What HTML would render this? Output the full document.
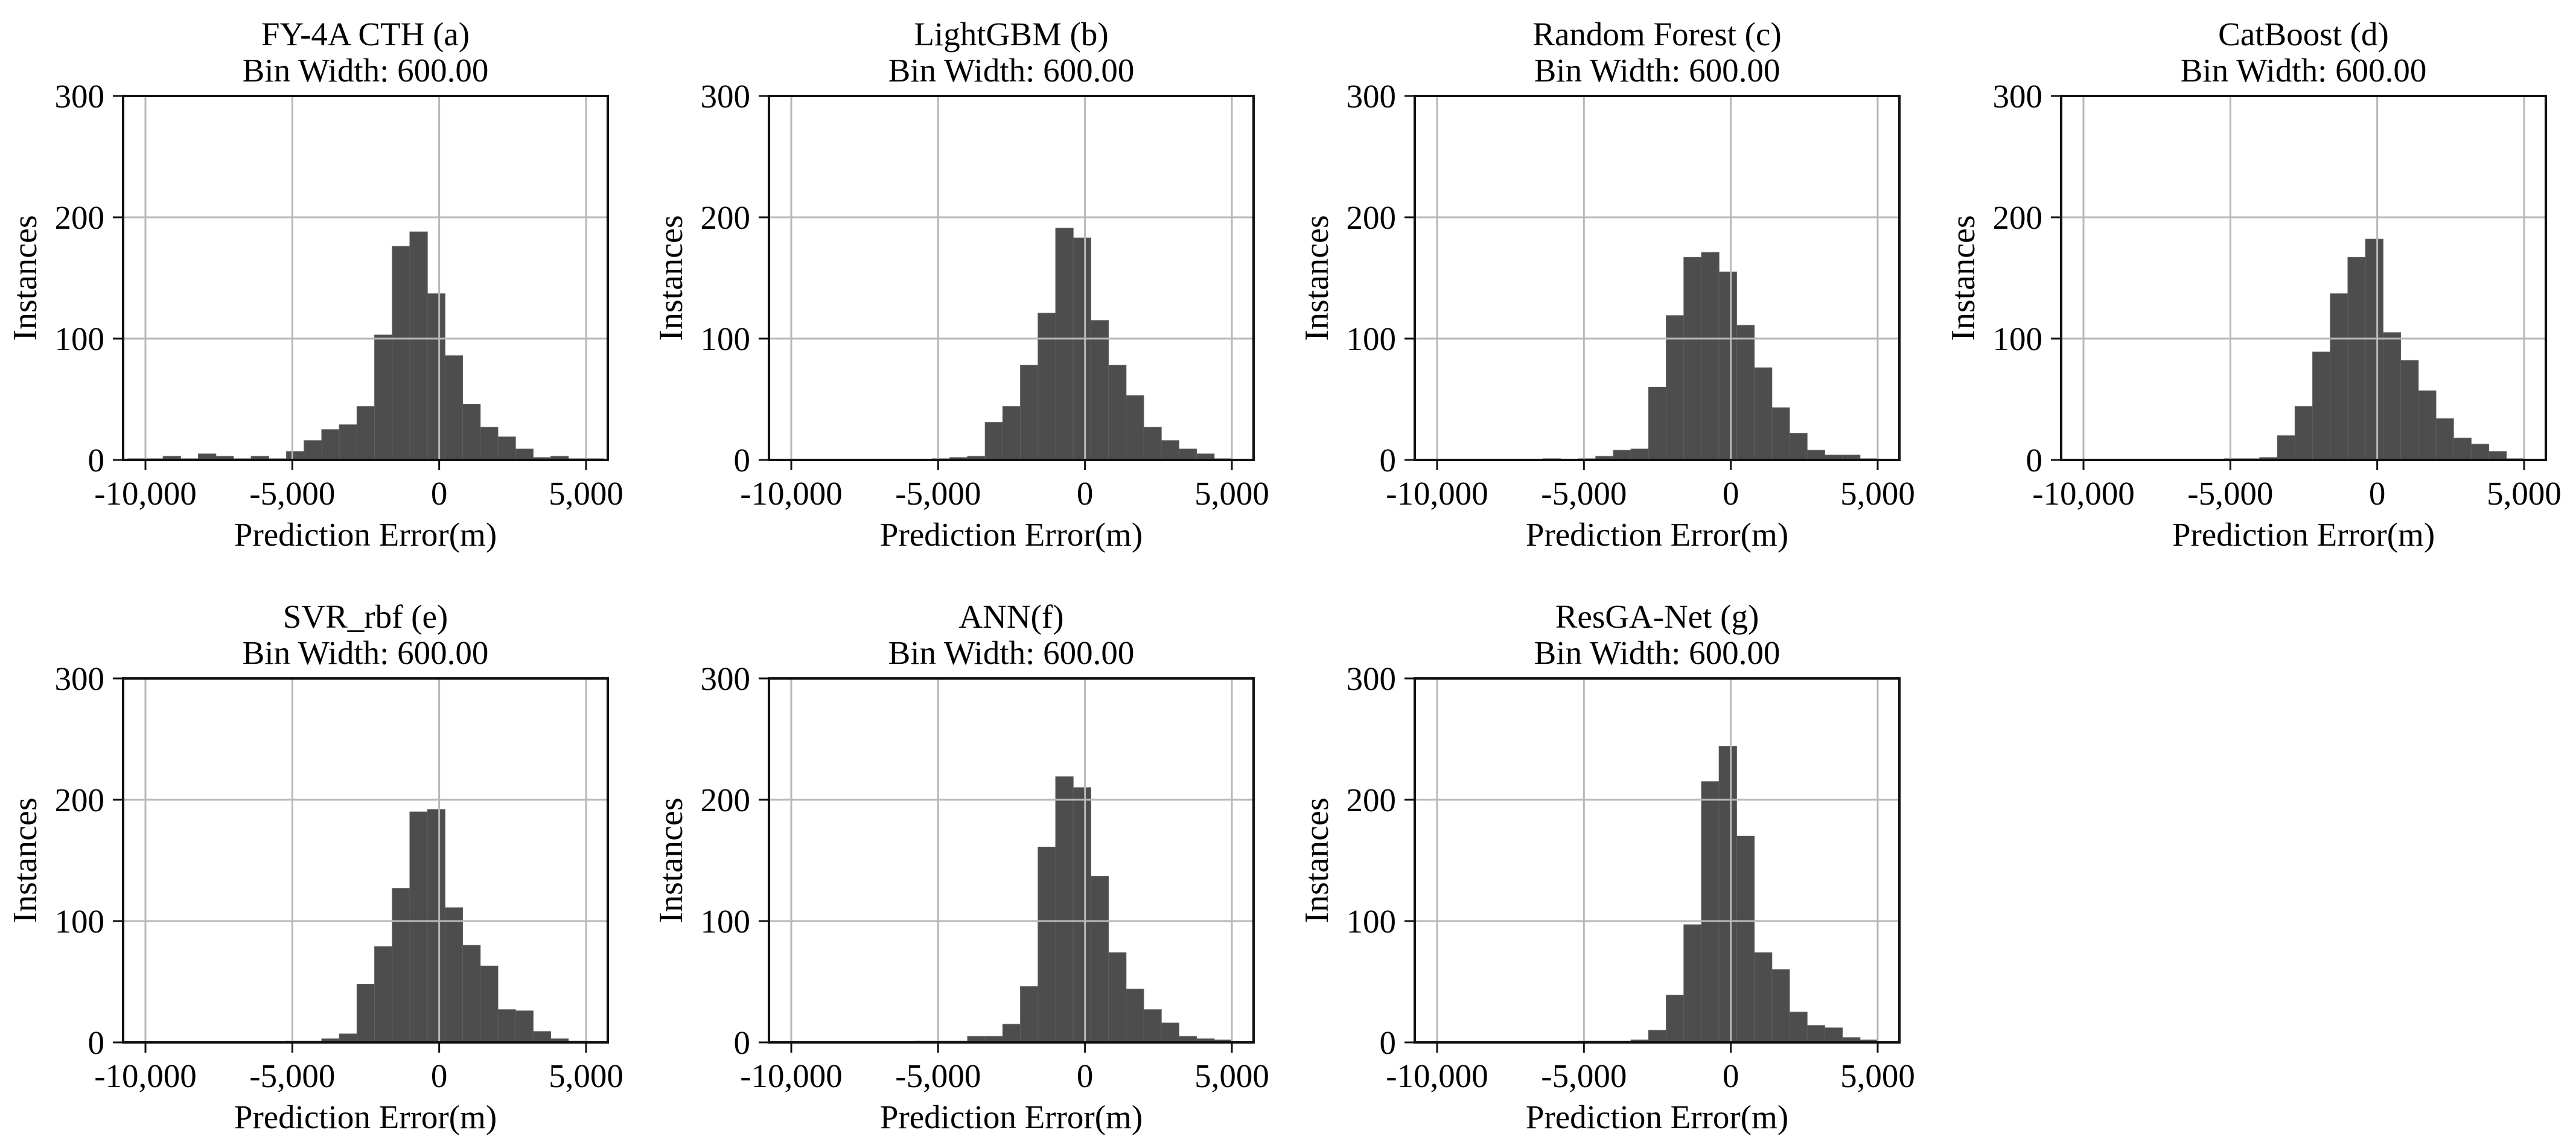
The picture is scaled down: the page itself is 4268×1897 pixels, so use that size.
<!DOCTYPE html>
<html><head><meta charset="utf-8"><style>
html,body{margin:0;padding:0;background:#fff;}
svg{display:block;}
text{font-family:"Liberation Serif","DejaVu Serif",serif;fill:#000;}
</style></head><body>
<svg id="chart" width="4268" height="1897" viewBox="0 0 4268 1897" xmlns="http://www.w3.org/2000/svg"></svg>
<script>
// bins: left edges start at binStart, width binWidth
const binStart = -10600;
const binWidth = 600;
const panelTitles = ["FY-4A CTH (a)","LightGBM (b)","Random Forest (c)","CatBoost (d)","SVR_rbf (e)","ANN(f)","ResGA-Net (g)"];
const panelSlugs = ["fy4a-cth","lightgbm","random-forest","catboost","svr-rbf","ann","resga-net"];
const countsA = [1,1,3,1,5,3,1,3,1,7,16,25,29,44,103,176,188,137,86,46,27,19,9,2,3,1,1];
const countsB = [0,0,0,0,0,0,0,0,0,1,2,3,31,44,78,121,191,183,115,78,53,27,16,9,5,1,0];
const countsC = [0,0,0,0,0,0,0,1,0,1,3,8,9,60,119,167,171,155,111,76,43,22,8,4,4,1,0];
const countsD = [0,0,0,0,0,0,0,0,0,1,1,2,20,44,89,137,167,182,105,82,57,34,18,13,7,1,0];
const countsE = [0,0,0,0,0,0,0,0,0,1,1,3,7,48,79,127,190,192,111,80,63,27,26,9,3,1,0];
const countsF = [0,0,0,0,0,0,0,0,1,1,1,5,5,15,46,161,219,210,137,74,44,27,16,5,3,2,0];
const countsG = [0,0,0,0,0,0,0,0,0,1,1,1,2,10,39,97,215,244,170,74,60,25,14,12,4,2,0];
const xTicks = [-10000,-5000,0,5000];
const xTickLabels = ["-10,000","-5,000","0","5,000"];
const yTicks = [0,100,200,300];
const yTickLabels = ["0","100","200","300"];
const allCounts = [countsA,countsB,countsC,countsD,countsE,countsF,countsG];

const svg = document.getElementById('chart');
const NS = "http://www.w3.org/2000/svg";
function mk(tag, attrs, parent){
  const e = document.createElementNS(NS, tag);
  for (const k in attrs) e.setAttribute(k, attrs[k]);
  parent.appendChild(e);
  return e;
}
const X_MIN = -10760, X_MAX = 5740, Y_MIN = 0, Y_MAX = 300;
const W = 803;
const lefts = [204, 1274, 2344, 3415];
const tops = [159, 1124];
const heights = [603, 603];

allCounts.forEach((counts, p) => {
  const col = p % 4, row = Math.floor(p / 4);
  const L = lefts[col], T = tops[row], H = heights[row], B = T + H, R = L + W;
  const xs = v => L + (v - X_MIN) / (X_MAX - X_MIN) * W;
  const ys = v => B - (v - Y_MIN) / (Y_MAX - Y_MIN) * H;
  const g = mk('g', {}, svg);
  
  

  const cx = L + W / 2;
  const t1 = mk('text', {x: cx, y: T - 84, 'text-anchor': 'middle', 'font-size': 55}, g);
  t1.textContent = panelTitles[p];
  
  
  const t2 = mk('text', {x: cx, y: T - 24, 'text-anchor': 'middle', 'font-size': 55}, g);
  t2.textContent = "Bin Width: 600.00";
  
  

  counts.forEach((c, i) => {
    if (c <= 0) return;
    const x0 = xs(binStart + i * binWidth), x1 = xs(binStart + (i + 1) * binWidth);
    const r = mk('rect', {x: x0, y: ys(c), width: x1 - x0, height: ys(0) - ys(c), fill: '#4d4d4d', stroke: '#5e5e5e', 'stroke-width': 1}, g);
    
    
  });

  xTicks.forEach(v => {
    const l = mk('line', {x1: xs(v), x2: xs(v), y1: T, y2: B, stroke: '#b8b8b8', 'stroke-width': 3}, g);
    
    
  });
  yTicks.forEach(v => {
    const l = mk('line', {x1: L, x2: R, y1: ys(v), y2: ys(v), stroke: '#b8b8b8', 'stroke-width': 3}, g);
    
    
  });

  const fr = mk('rect', {x: L, y: T, width: W, height: H, fill: 'none', stroke: '#111', 'stroke-width': 4}, g);
  
  

  xTicks.forEach((v, i) => {
    const tk = mk('line', {x1: xs(v), x2: xs(v), y1: B, y2: B + 17, stroke: '#111', 'stroke-width': 3}, g);
    
    
    const tl = mk('text', {x: xs(v), y: B + 74, 'text-anchor': 'middle', 'font-size': 55}, g);
    tl.textContent = xTickLabels[i];
    
    
  });
  yTicks.forEach((v, i) => {
    const tk = mk('line', {x1: L - 17, x2: L, y1: ys(v), y2: ys(v), stroke: '#111', 'stroke-width': 3}, g);
    
    
    const tl = mk('text', {x: L - 31, y: ys(v) + 19, 'text-anchor': 'end', 'font-size': 55}, g);
    tl.textContent = yTickLabels[i];
    
    
  });

  const xl = mk('text', {x: cx, y: B + 142, 'text-anchor': 'middle', 'font-size': 55}, g);
  xl.textContent = "Prediction Error(m)";
  
  
  const yy = T + H / 2;
  const yl = mk('text', {x: L - 144, y: yy, 'text-anchor': 'middle', 'font-size': 56, transform: `rotate(-90 ${L - 144} ${yy})`}, g);
  yl.textContent = "Instances";
  
  
});
</script>
</body></html>
